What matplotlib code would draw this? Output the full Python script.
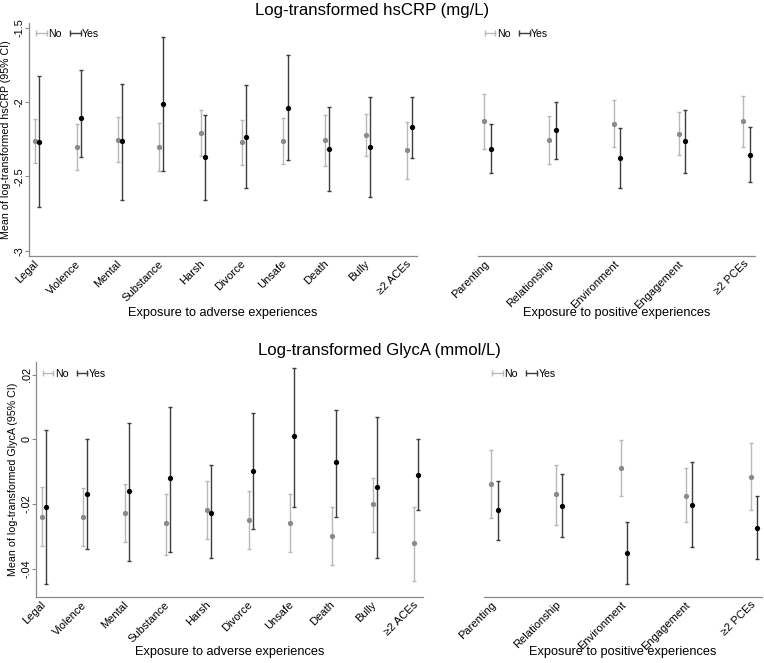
import matplotlib
matplotlib.use("Agg")
import matplotlib.pyplot as plt
from matplotlib.lines import Line2D
from matplotlib.legend_handler import HandlerLine2D
import numpy as np

plt.rcParams['font.family'] = ['Liberation Sans', 'DejaVu Sans']

# ---------------- data ----------------
aces = ["Legal", "Violence", "Mental", "Substance", "Harsh", "Divorce",
        "Unsafe", "Death", "Bully", "≥2 ACEs"]
pces = ["Parenting", "Relationship", "Environment", "Engagement", "≥2 PCEs"]

# hsCRP, adverse experiences
crp_ace_no_mean = [-2.265, -2.305, -2.253, -2.303, -2.209, -2.271, -2.262, -2.257, -2.220, -2.325]
crp_ace_no_lo = [-2.413, -2.457, -2.401, -2.462, -2.365, -2.426, -2.417, -2.430, -2.363, -2.515]
crp_ace_no_hi = [-2.117, -2.148, -2.103, -2.143, -2.056, -2.119, -2.108, -2.084, -2.079, -2.135]
crp_ace_yes_mean = [-2.267, -2.108, -2.265, -2.013, -2.372, -2.235, -2.038, -2.316, -2.300, -2.170]
crp_ace_yes_lo = [-2.709, -2.368, -2.659, -2.462, -2.659, -2.581, -2.392, -2.597, -2.637, -2.374]
crp_ace_yes_hi = [-1.825, -1.785, -1.877, -1.565, -2.090, -1.888, -1.684, -2.035, -1.966, -1.963]

# hsCRP, positive experiences
crp_pce_no_mean = [-2.130, -2.253, -2.146, -2.213, -2.130]
crp_pce_no_lo = [-2.318, -2.415, -2.305, -2.357, -2.303]
crp_pce_no_hi = [-1.946, -2.092, -1.989, -2.067, -1.957]
crp_pce_yes_mean = [-2.314, -2.188, -2.374, -2.265, -2.354]
crp_pce_yes_lo = [-2.475, -2.381, -2.576, -2.475, -2.540]
crp_pce_yes_hi = [-2.148, -1.998, -2.175, -2.054, -2.170]

# GlycA, adverse experiences
gly_ace_no_mean = [-0.0239, -0.0239, -0.0229, -0.0260, -0.0220, -0.0249, -0.0260, -0.0298, -0.0199, -0.0322]
gly_ace_no_lo = [-0.0329, -0.0330, -0.0318, -0.0359, -0.0309, -0.0338, -0.0349, -0.0389, -0.0288, -0.0438]
gly_ace_no_hi = [-0.0149, -0.0150, -0.0139, -0.0169, -0.0129, -0.0159, -0.0169, -0.0209, -0.0119, -0.0209]
gly_ace_yes_mean = [-0.0209, -0.0169, -0.0159, -0.0119, -0.0229, -0.0099, 0.0010, -0.0070, -0.0149, -0.0110]
gly_ace_yes_lo = [-0.0449, -0.0340, -0.0378, -0.0349, -0.0368, -0.0279, -0.0209, -0.0239, -0.0368, -0.0218]
gly_ace_yes_hi = [0.0030, 0.0000, 0.0050, 0.0100, -0.0079, 0.0080, 0.0220, 0.0090, 0.0070, 0.0000]

# GlycA, positive experiences
gly_pce_no_mean = [-0.0138, -0.0170, -0.0090, -0.0174, -0.0117]
gly_pce_no_lo = [-0.0245, -0.0264, -0.0177, -0.0255, -0.0220]
gly_pce_no_hi = [-0.0032, -0.0079, -0.0002, -0.0090, -0.0013]
gly_pce_yes_mean = [-0.0218, -0.0205, -0.0352, -0.0202, -0.0274]
gly_pce_yes_lo = [-0.0312, -0.0303, -0.0448, -0.0332, -0.0371]
gly_pce_yes_hi = [-0.0129, -0.0108, -0.0255, -0.0070, -0.0177]

crp_yticks = [-3, -2.5, -2, -1.5]
crp_yticklabels = ["-3", "-2.5", "-2", "-1.5"]
gly_yticks = [-0.04, -0.02, 0, 0.02]
gly_yticklabels = ["-.04", "-.02", "0", ".02"]

title_crp = "Log-transformed hsCRP (mg/L)"
title_gly = "Log-transformed GlycA (mmol/L)"
ylab_crp = "Mean of log-transformed hsCRP (95% CI)"
ylab_gly = "Mean of log-transformed GlycA (95% CI)"
xlab_ace = "Exposure to adverse experiences"
xlab_pce = "Exposure to positive experiences"

# ---------------- style ----------------
NO_BAR = "#b8b8b8"
NO_DOT = "#8a8a8a"
YES_BAR = "#3c3c3c"
YES_DOT = "#000000"
AXC = "#8a8a8a"
W, H = 764, 663

fig = plt.figure(figsize=(W / 100, H / 100), dpi=100)


def px_axes(l, r, t, b):
    return fig.add_axes([l / W, 1 - b / H, (r - l) / W, (b - t) / H])


def panel(ax, cats, nm, nlo, nhi, ym, ylo, yhi, ylim, xlim, show_y,
          yticks=None, yticklabels=None, ylabel=None, xlabel=None, leg_x=0.02, leg_y=0.975,
          ylab_x=-0.06, xlab_y=-0.24):
    x = np.arange(1, len(cats) + 1)
    off = 0.05
    nm, nlo, nhi = map(np.asarray, (nm, nlo, nhi))
    ym, ylo, yhi = map(np.asarray, (ym, ylo, yhi))
    ax.errorbar(x - off, nm, yerr=[nm - nlo, nhi - nm], fmt='none', ecolor=NO_BAR,
                elinewidth=1.0, capsize=1.6, capthick=1.0, zorder=2)
    ax.plot(x - off, nm, 'o', color=NO_DOT, ms=3.8, mew=0, zorder=3)
    ax.errorbar(x + off, ym, yerr=[ym - ylo, yhi - ym], fmt='none', ecolor=YES_BAR,
                elinewidth=1.0, capsize=1.6, capthick=1.0, zorder=4)
    ax.plot(x + off, ym, 'o', color=YES_DOT, ms=3.8, mew=0, zorder=5)
    ax.set_ylim(*ylim)
    ax.set_xlim(*xlim)
    for s in ("top", "right"):
        ax.spines[s].set_visible(False)
    ax.spines["bottom"].set_color(AXC)
    ax.spines["bottom"].set_linewidth(0.9)
    ax.set_xticks(x)
    ax.set_xticklabels(cats, rotation=45, ha='right', va='center',
                       rotation_mode='anchor', fontsize=8)
    ax.tick_params(axis='x', length=0, pad=4.5)
    if show_y:
        ax.spines["left"].set_color(AXC)
        ax.spines["left"].set_linewidth(0.9)
        ax.set_yticks(yticks)
        ax.set_yticklabels(yticklabels, rotation=90, va='center', fontsize=7.8)
        ax.tick_params(axis='y', length=2.6, width=0.8, color=AXC, pad=0.3)
        ax.set_ylabel(ylabel, fontsize=7.7, va='center')
        ax.yaxis.set_label_coords(ylab_x, 0.5)
    else:
        ax.spines["left"].set_visible(False)
        ax.set_yticks([])
    ax.set_xlabel(xlabel, fontsize=9.2, va='center')
    ax.xaxis.set_label_coords(0.5, xlab_y)
    h_no = Line2D([], [], color=NO_BAR, lw=1.0, marker='|', ms=4, mew=1.0)
    h_yes = Line2D([], [], color=YES_BAR, lw=1.0, marker='|', ms=4, mew=1.0)
    ax.legend([h_no, h_yes], ["No", "Yes"], ncol=2, frameon=False, fontsize=7.6,
              loc='upper left', bbox_to_anchor=(leg_x, leg_y), borderaxespad=0,
              borderpad=0, handlelength=1.0, handletextpad=0.15, columnspacing=0.8,
              handler_map={Line2D: HandlerLine2D(marker_pad=0, numpoints=2)})


crp_ylim = (-3.036, -1.468)
gly_ylim = (-0.0488, 0.0239)

ax1 = px_axes(29, 417, 23, 256)
panel(ax1, aces, crp_ace_no_mean, crp_ace_no_lo, crp_ace_no_hi,
      crp_ace_yes_mean, crp_ace_yes_lo, crp_ace_yes_hi, crp_ylim, (0.80, 10.18), True,
      crp_yticks, crp_yticklabels, ylab_crp, xlab_ace, leg_x=0.018, leg_y=0.975,
      ylab_x=-(29 - 6) / 388, xlab_y=-(313 - 256) / 233)

ax2 = px_axes(478, 755, 23, 256)
panel(ax2, pces, crp_pce_no_mean, crp_pce_no_lo, crp_pce_no_hi,
      crp_pce_yes_mean, crp_pce_yes_lo, crp_pce_yes_hi, crp_ylim, (0.853, 5.128), False,
      xlabel=xlab_pce, leg_x=0.025, leg_y=0.975, xlab_y=-(313 - 256) / 233)

ax3 = px_axes(36, 423, 362, 597)
panel(ax3, aces, gly_ace_no_mean, gly_ace_no_lo, gly_ace_no_hi,
      gly_ace_yes_mean, gly_ace_yes_lo, gly_ace_yes_hi, gly_ylim, (0.81, 10.16), True,
      gly_yticks, gly_yticklabels, ylab_gly, xlab_ace, leg_x=0.017, leg_y=0.97,
      ylab_x=-(36 - 13) / 387, xlab_y=-(652 - 597) / 235)

ax4 = px_axes(484, 762, 362, 597)
panel(ax4, pces, gly_pce_no_mean, gly_pce_no_lo, gly_pce_no_hi,
      gly_pce_yes_mean, gly_pce_yes_lo, gly_pce_yes_hi, gly_ylim, (0.84, 5.126), False,
      xlabel=xlab_pce, leg_x=0.029, leg_y=0.97, xlab_y=-(652 - 597) / 235)

fig.text(372 / W, 1 - 10 / H, title_crp, ha='center', va='center', fontsize=12.1)
fig.text(379 / W, 1 - 350 / H, title_gly, ha='center', va='center', fontsize=12.1)

fig.savefig("out.png", dpi=100, facecolor="white")
